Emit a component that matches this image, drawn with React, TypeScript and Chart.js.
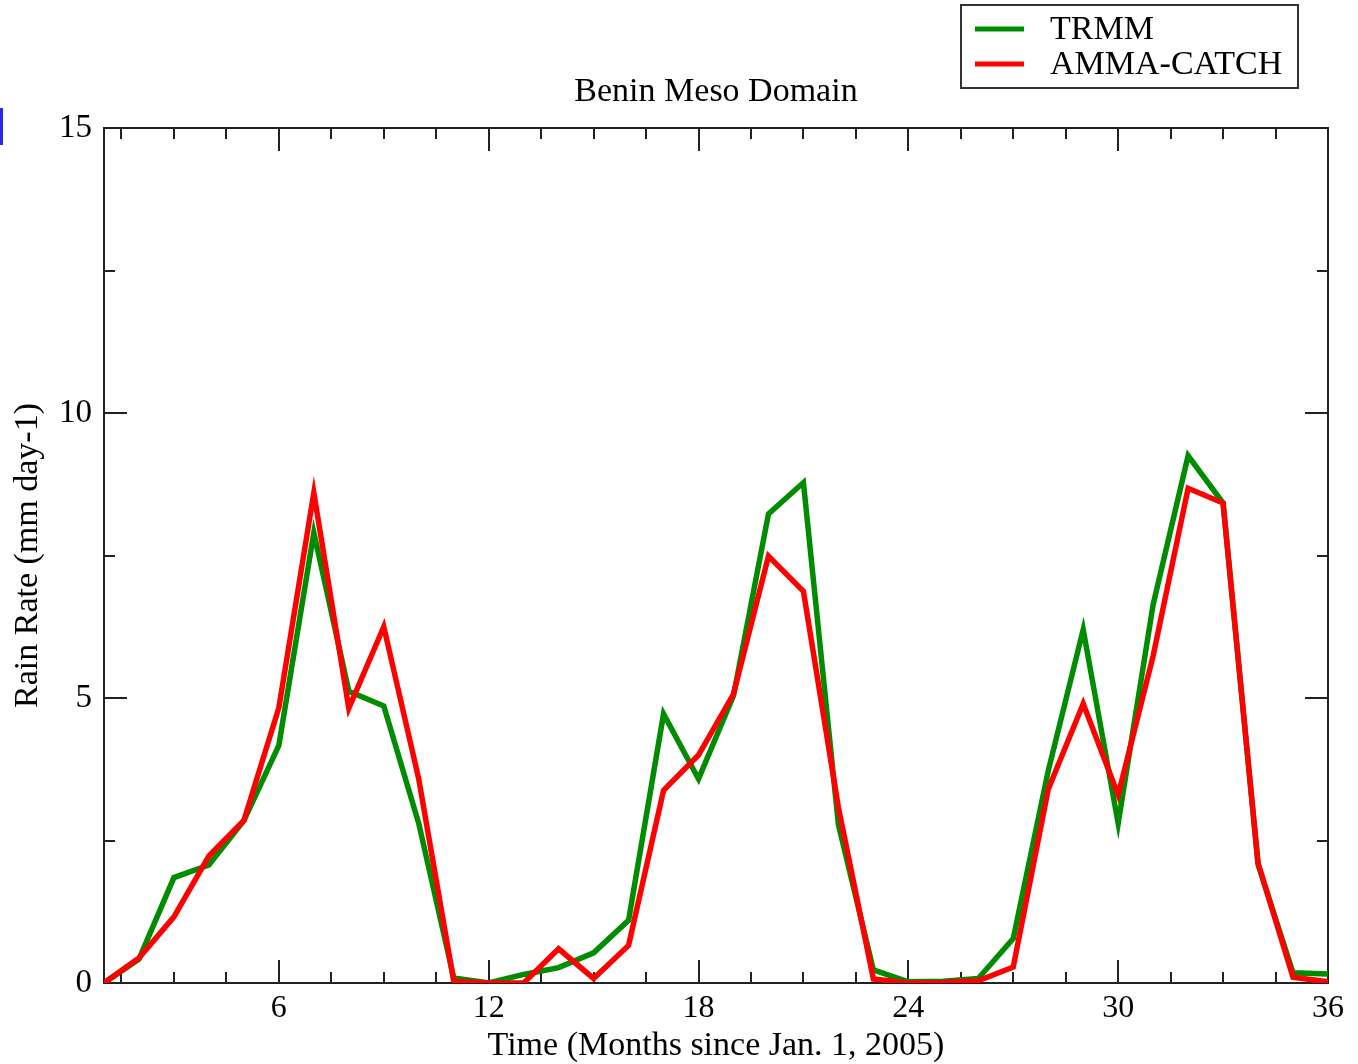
import React, { useEffect, useRef } from "react";
import { Chart, registerables } from "chart.js";

Chart.register(...registerables);

const months = [
  1, 2, 3, 4, 5, 6, 7, 8, 9, 10, 11, 12, 13, 14, 15, 16, 17, 18,
  19, 20, 21, 22, 23, 24, 25, 26, 27, 28, 29, 30, 31, 32, 33, 34, 35, 36,
];

const trmm = [
  0, 0.42, 1.85, 2.07, 2.85, 4.17, 7.9, 5.12, 4.86, 2.8, 0.09, 0.0,
  0.15, 0.27, 0.53, 1.1, 4.72, 3.58, 5.04, 8.23, 8.78, 2.78, 0.23, 0.02,
  0.03, 0.08, 0.78, 3.72, 6.2, 2.8, 6.64, 9.25, 8.42, 2.08, 0.18, 0.16,
];

const ammaCatch = [
  0, 0.44, 1.16, 2.23, 2.85, 4.83, 8.6, 4.82, 6.25, 3.58, 0.03, 0.0,
  0.0, 0.6, 0.08, 0.66, 3.38, 4.0, 5.07, 7.49, 6.87, 3.08, 0.07, 0.0,
  0.01, 0.04, 0.28, 3.4, 4.9, 3.3, 5.74, 8.68, 8.42, 2.1, 0.1, 0.02,
];

const xMajorTicks = [6, 12, 18, 24, 30, 36];
const xMinorTicks = [
  1.5, 3, 4.5, 7.5, 9, 10.5, 13.5, 15, 16.5, 19.5, 21, 22.5, 25.5, 27,
  28.5, 31.5, 33, 34.5,
];
const yMajorTicks = [0, 5, 10, 15];
const yMinorTicks = [2.5, 7.5, 12.5];

const SERIF = "'Liberation Serif', 'Times New Roman', serif";
const GREEN = "rgb(0,140,0)";
const RED = "rgb(255,0,0)";

const frameTicks = {
  id: "frameTicks",
  beforeDatasetsDraw(chart: any) {
    const { ctx, chartArea, scales } = chart;
    const { left, right, top, bottom } = chartArea;
    const x = scales.x;
    const y = scales.y;
    ctx.save();
    ctx.strokeStyle = "#222";
    ctx.lineWidth = 2;
    ctx.beginPath();
    const major = 23;
    const minor = 11;
    const vTick = (v: number, len: number) => {
      const px = Math.round(x.getPixelForValue(v));
      ctx.moveTo(px, bottom);
      ctx.lineTo(px, bottom - len);
      ctx.moveTo(px, top);
      ctx.lineTo(px, top + len);
    };
    const hTick = (v: number, len: number) => {
      const py = Math.round(y.getPixelForValue(v));
      ctx.moveTo(left, py);
      ctx.lineTo(left + len, py);
      ctx.moveTo(right, py);
      ctx.lineTo(right - len, py);
    };
    xMajorTicks.forEach((v) => vTick(v, major));
    xMinorTicks.forEach((v) => vTick(v, minor));
    yMajorTicks.forEach((v) => hTick(v, major));
    yMinorTicks.forEach((v) => hTick(v, minor));
    ctx.stroke();
    ctx.strokeRect(left, top, right - left, bottom - top);
    ctx.restore();
  },
  afterDraw(chart: any) {
    const { ctx } = chart;
    ctx.save();
    ctx.fillStyle = "#fff";
    ctx.fillRect(961, 5, 337, 83);
    ctx.strokeStyle = "#333";
    ctx.lineWidth = 2;
    ctx.strokeRect(961, 5, 337, 83);
    const ds = chart.data.datasets;
    const rows = [29, 64];
    ds.forEach((d: any, i: number) => {
      const yy = rows[i];
      ctx.strokeStyle = d.borderColor;
      ctx.lineWidth = 5;
      ctx.beginPath();
      ctx.moveTo(975, yy);
      ctx.lineTo(1024, yy);
      ctx.stroke();
      ctx.fillStyle = "#000";
      ctx.font = `34px ${SERIF}`;
      ctx.textBaseline = "middle";
      ctx.textAlign = "left";
      ctx.fillText(d.label, 1050, yy + 1);
    });
    ctx.restore();
  },
};

export default function App() {
  const ref = useRef<HTMLCanvasElement | null>(null);
  useEffect(() => {
    if (!ref.current) return;
    const chart = new Chart(ref.current, {
      type: "line",
      data: {
        datasets: [
          {
            label: "TRMM",
            data: months.map((m, i) => ({ x: m, y: trmm[i] })),
            borderColor: GREEN,
            backgroundColor: GREEN,
            borderWidth: 5.5,
            pointRadius: 0,
            borderJoinStyle: "miter",
            tension: 0,
            order: 2,
          },
          {
            label: "AMMA-CATCH",
            data: months.map((m, i) => ({ x: m, y: ammaCatch[i] })),
            borderColor: RED,
            backgroundColor: RED,
            borderWidth: 5.5,
            pointRadius: 0,
            borderJoinStyle: "miter",
            tension: 0,
            order: 1,
          },
        ],
      },
      plugins: [frameTicks],
      options: {
        animation: false,
        responsive: false,
        devicePixelRatio: 1,
        layout: { padding: { top: 70, right: 30, left: 0, bottom: 0 } },
        plugins: {
          legend: { display: false },
          tooltip: { enabled: false },
          title: {
            display: true,
            fullSize: false,
            text: "Benin Meso Domain",
            color: "#000",
            font: { family: SERIF, size: 34, weight: "normal", lineHeight: 1 },
            padding: { top: 5, bottom: 19 },
          },
        },
        scales: {
          x: {
            type: "linear",
            min: 1,
            max: 36,
            grid: { display: false, drawTicks: false },
            border: { display: false },
            afterBuildTicks: (scale: any) => {
              scale.ticks = xMajorTicks.map((v) => ({ value: v }));
            },
            afterFit: (scale: any) => {
              scale.height = 81;
            },
            ticks: {
              autoSkip: false,
              maxRotation: 0,
              color: "#000",
              padding: 6,
              font: { family: SERIF, size: 32 },
            },
            title: {
              display: true,
              text: "Time (Months since Jan. 1, 2005)",
              color: "#000",
              font: { family: SERIF, size: 34, lineHeight: 1 },
              padding: { top: 0, bottom: 1 },
            },
          },
          y: {
            type: "linear",
            min: 0,
            max: 15,
            grid: { display: false, drawTicks: false },
            border: { display: false },
            afterBuildTicks: (scale: any) => {
              scale.ticks = yMajorTicks.map((v) => ({ value: v }));
            },
            afterFit: (scale: any) => {
              scale.width = 104;
            },
            ticks: {
              color: "#000",
              padding: 12,
              font: { family: SERIF, size: 33 },
            },
            title: {
              display: true,
              text: "Rain Rate (mm day-1)",
              color: "#000",
              font: { family: SERIF, size: 34, lineHeight: 1.2 },
              padding: { top: 8, bottom: 0 },
            },
          },
        },
      },
    } as any);
    return () => chart.destroy();
  }, []);

  return (
    <div
      style={{
        position: "fixed",
        left: 0,
        top: 0,
        width: 1358,
        height: 1064,
        background: "#fff",
      }}
    >
      <canvas ref={ref} width={1358} height={1064} style={{ display: "block" }} />
      <div
        style={{
          position: "absolute",
          left: 0,
          top: 108,
          width: 3,
          height: 37,
          background: "rgb(40,40,230)",
        }}
      />
    </div>
  );
}
